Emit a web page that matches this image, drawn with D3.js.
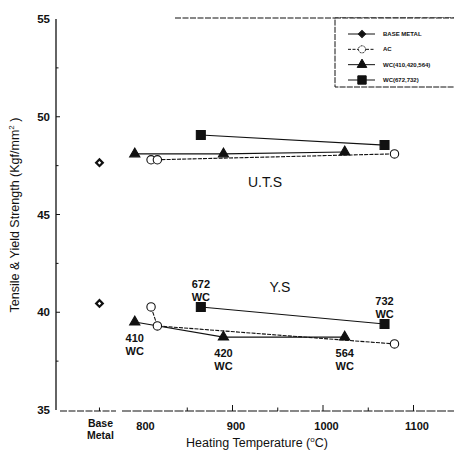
<!DOCTYPE html>
<html>
<head>
<meta charset="utf-8">
<script src="https://cdn.jsdelivr.net/npm/d3@7"></script>
<style>
  html, body { margin: 0; padding: 0; background: #fff; }
  svg { display: block; font-family: "Liberation Sans", Arial, sans-serif; }
</style>
</head>
<body>
<svg id="chart" width="454" height="455"></svg>
<script>
// Heating temperature axis (°C)
const tempTicks = [800, 900, 1000, 1100];
const tempMinorTicks = [850, 950, 1050];
const baseMetalSlot = 753;           // position of the "Base Metal" category on the temperature axis
// Strength axis (Kgf/mm²)
const strengthTicks = [35, 40, 45, 50, 55];
const strengthMinorTicks = [37.5, 42.5, 47.5, 52.5];

// Base metal
const baseUTS = [47.65];
const baseYS = [40.45];

// As-cast (AC)
const acTemps = [810, 817, 1079];
const acUTS = [47.8, 47.8, 48.1];
const acYS = [40.27, 39.3, 38.38];

// WC (410, 420, 564)
const wcATemps = [792, 890, 1024];
const wcANames = ["410", "420", "564"];
const wcAUTS = [48.1, 48.1, 48.2];
const wcAYS = [39.5, 38.73, 38.73];

// WC (672, 732)
const wcBTemps = [865, 1068];
const wcBNames = ["672", "732"];
const wcBUTS = [49.07, 48.55];
const wcBYS = [40.27, 39.4];

const legendItems = ["BASE METAL", "AC", "WC(410,420,564)", "WC(672,732)"];

const svg = d3.select("#chart");
const x = d3.scaleLinear().domain([740, 1140]).range([87.7, 449.7]);
const y = d3.scaleLinear().domain([35, 55]).range([410, 19]);
const axisX = 56;

// ---- frame ----
const frame = svg.append("g").attr("stroke", "#111").attr("fill", "none");
frame.append("line").attr("x1", axisX).attr("x2", axisX).attr("y1", y(55)).attr("y2", y(35)).attr("stroke-width", 1.3);
frame.append("line").attr("x1", 60).attr("x2", 116).attr("y1", y(35) + 1).attr("y2", y(35) + 1)
  .attr("stroke-width", 1.1).attr("stroke-dasharray", "7,1.5");
frame.append("line").attr("x1", 122).attr("x2", 454).attr("y1", y(35) + 1).attr("y2", y(35) + 1)
  .attr("stroke-width", 1.1).attr("stroke-dasharray", "9,1.5");
frame.append("line").attr("x1", 175).attr("x2", 454).attr("y1", 18).attr("y2", 18)
  .attr("stroke-width", 1.1).attr("stroke-dasharray", "6,1.5");

// ---- y axis ticks & labels ----
const yAxis = d3.axisLeft(y).tickValues(strengthTicks).tickSize(0).tickPadding(4);
const gy = svg.append("g").attr("transform", `translate(${axisX - 2},0)`).call(yAxis);
gy.select(".domain").remove();
gy.selectAll("text").attr("font-size", 11.5).attr("font-weight", "bold").attr("fill", "#111")
  .attr("font-family", "Liberation Sans, Arial, sans-serif");
svg.append("g").selectAll("line").data(strengthTicks.slice(1, 4)).join("line")
  .attr("x1", axisX).attr("x2", axisX + 4).attr("y1", d => y(d)).attr("y2", d => y(d))
  .attr("stroke", "#111").attr("stroke-width", 1);
svg.append("g").selectAll("line").data(strengthMinorTicks).join("line")
  .attr("x1", axisX).attr("x2", axisX + 2.5).attr("y1", d => y(d)).attr("y2", d => y(d))
  .attr("stroke", "#111").attr("stroke-width", 1);

// ---- x axis ticks & labels ----
const xAxis = d3.axisBottom(x).tickValues(tempTicks).tickFormat(d3.format("d")).tickSize(0).tickPadding(12);
const gx = svg.append("g").attr("transform", `translate(3,${y(35)})`).call(xAxis);
gx.select(".domain").remove();
gx.selectAll("text").attr("font-size", 11).attr("font-weight", "bold").attr("fill", "#111")
  .attr("font-family", "Liberation Sans, Arial, sans-serif");
svg.append("g").selectAll("line").data(tempTicks.slice(1)).join("line")
  .attr("x1", d => x(d)).attr("x2", d => x(d)).attr("y1", y(35) + 1).attr("y2", y(35) - 5)
  .attr("stroke", "#111").attr("stroke-width", 1);
svg.append("g").selectAll("line").data(tempMinorTicks.concat([baseMetalSlot])).join("line")
  .attr("x1", d => x(d)).attr("x2", d => x(d)).attr("y1", y(35) + 1).attr("y2", y(35) - 2.5)
  .attr("stroke", "#111").attr("stroke-width", 1);

const baseLabel = svg.append("text").attr("x", x(baseMetalSlot) + 1).attr("y", y(35) + 17)
  .attr("text-anchor", "middle").attr("font-size", 10.5).attr("font-weight", "bold").attr("fill", "#111");
baseLabel.append("tspan").attr("x", x(baseMetalSlot) + 1).text("Base");
baseLabel.append("tspan").attr("x", x(baseMetalSlot) + 1).attr("dy", 12).text("Metal");

// axis titles
const xt = svg.append("text").attr("x", 257).attr("y", 447).attr("text-anchor", "middle")
  .attr("font-size", 12.5).attr("fill", "#111");
xt.append("tspan").text("Heating Temperature (");
xt.append("tspan").attr("font-size", 8).attr("dy", -5).text("o");
xt.append("tspan").attr("dy", 5).text("C)");

const yt = svg.append("text").attr("transform", `translate(19,215) rotate(-90)`).attr("text-anchor", "middle")
  .attr("font-size", 12.5).attr("fill", "#111");
yt.append("tspan").text("Tensile & Yield Strength (Kgf/mm");
yt.append("tspan").attr("font-size", 8).attr("dy", -5).text("2");
yt.append("tspan").attr("dy", 5).text(" )");

// ---- series ----
const line = d3.line().x(d => x(d[0])).y(d => y(d[1]));
const plot = svg.append("g");

function drawLine(temps, vals, dash) {
  plot.append("path").datum(d3.zip(temps, vals)).attr("d", line)
    .attr("fill", "none").attr("stroke", "#111").attr("stroke-width", 1.1)
    .attr("stroke-dasharray", dash || null);
}
[acUTS, acYS].forEach(v => drawLine(acTemps, v, "4,1.2"));
[wcAUTS, wcAYS].forEach(v => drawLine(wcATemps, v));
[wcBUTS, wcBYS].forEach(v => drawLine(wcBTemps, v));

// marker shapes; the diamond is a square turned by 45°
const sym = {
  diamond: { d: d3.symbol().type(d3.symbolSquare).size(22)(), rot: 45 },
  triangle: { d: d3.symbol().type(d3.symbolTriangle).size(45)(), rot: 0 },
  square: { d: d3.symbol().type(d3.symbolSquare).size(80)(), rot: 0 },
  circle: { d: d3.symbol().type(d3.symbolCircle).size(55)(), rot: 0 }
};
function drawMarks(temps, vals, kind) {
  plot.append("g").selectAll("path").data(d3.zip(temps, vals)).join("path")
    .attr("transform", d => `translate(${x(d[0])},${y(d[1])}) rotate(${sym[kind].rot})`)
    .attr("d", sym[kind].d)
    .attr("fill", kind === "circle" || kind === "diamond" ? "#fff" : "#111")
    .attr("stroke", "#111")
    .attr("stroke-width", kind === "diamond" ? 2.2 : 1.1);
}
drawMarks([baseMetalSlot], baseUTS, "diamond");
drawMarks([baseMetalSlot], baseYS, "diamond");
drawMarks(acTemps, acUTS, "circle");
drawMarks(acTemps, acYS, "circle");
drawMarks(wcATemps, wcAUTS, "triangle");
drawMarks(wcATemps, wcAYS, "triangle");
drawMarks(wcBTemps, wcBUTS, "square");
drawMarks(wcBTemps, wcBYS, "square");

// ---- annotations ----
const ann = svg.append("g").attr("fill", "#111").attr("font-weight", "bold").attr("text-anchor", "middle");
ann.append("text").attr("x", 265).attr("y", 187).attr("font-size", 14).attr("font-weight", "normal").text("U.T.S");
ann.append("text").attr("x", 280).attr("y", 292).attr("font-size", 14).attr("font-weight", "normal").text("Y.S");

function twoLine(cx, top, name) {
  const t = ann.append("text").attr("font-size", 11);
  t.append("tspan").attr("x", cx).attr("y", top).text(name);
  t.append("tspan").attr("x", cx).attr("dy", 13).text("WC");
}
// labels below the WC(410,420,564) yield points
wcATemps.forEach((T, i) => twoLine(x(T), y(wcAYS[i]) + 20, wcANames[i]));
// labels above the WC(672,732) yield points
wcBTemps.forEach((T, i) => twoLine(x(T), y(wcBYS[i]) - 19, wcBNames[i]));

// ---- legend ----
const lg = svg.append("g");
lg.append("rect").attr("x", 335).attr("y", 18).attr("width", 140).attr("height", 69)
  .attr("fill", "#fff").attr("stroke", "#111").attr("stroke-width", 1).attr("stroke-dasharray", "6,1.2");
const legendKinds = ["diamond", "circle", "triangle", "square"];
const legendY = d3.scalePoint().domain(legendItems).range([34, 80]);
const legendShapes = {
  diamond: { d: d3.symbol().type(d3.symbolSquare).size(26)(), rot: 45 },
  circle: { d: d3.symbol().type(d3.symbolCircle).size(40)(), rot: 0 },
  triangle: { d: d3.symbol().type(d3.symbolTriangle).size(40)(), rot: 0 },
  square: { d: d3.symbol().type(d3.symbolSquare).size(70)(), rot: 0 }
};
legendItems.forEach((name, i) => {
  const ly = legendY(name);
  const k = legendKinds[i];
  lg.append("line").attr("x1", 348).attr("x2", 375).attr("y1", ly).attr("y2", ly)
    .attr("stroke", "#111").attr("stroke-width", 1)
    .attr("stroke-dasharray", k === "circle" ? "3,1.5" : null);
  lg.append("path").attr("transform", `translate(362,${ly}) rotate(${legendShapes[k].rot})`)
    .attr("d", legendShapes[k].d)
    .attr("fill", k === "circle" ? "#fff" : "#111").attr("stroke", "#111").attr("stroke-width", 1)
    .attr("stroke-dasharray", k === "circle" ? "2,1" : null);
  lg.append("text").attr("x", 383).attr("y", ly + 2).attr("font-size", 6).attr("font-weight", "bold")
    .attr("fill", "#111").text(name);
});
</script>
</body>
</html>
